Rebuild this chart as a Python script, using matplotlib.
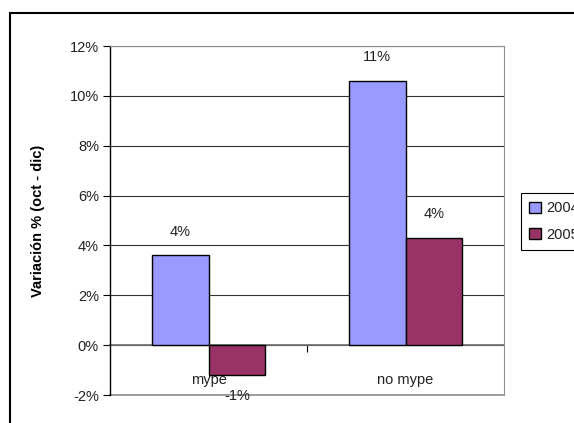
import matplotlib
matplotlib.use('Agg')
import matplotlib.pyplot as plt
import numpy as np
from matplotlib.patches import Rectangle
from matplotlib.ticker import FixedLocator, PercentFormatter

categories = ['mype', 'no mype']
series_names = ['2004', '2005']
values_2004 = [3.6, 10.6]
values_2005 = [-1.2, 4.3]
colors = ['#9999FF', '#993366']

plt.rcParams['font.family'] = ['Liberation Sans', 'DejaVu Sans']
plt.rcParams['axes.unicode_minus'] = False

fs = 10.5

fig = plt.figure(figsize=(5.74, 4.23), dpi=100)
ax = fig.add_axes([110 / 574, 28 / 423, 394 / 574, 349 / 423])

x = np.arange(len(categories))
width = 0.289
for k, (vals, name, col) in enumerate(zip([values_2004, values_2005], series_names, colors)):
    offs = (k - 0.5) * width
    bars = ax.bar(x + offs, vals, width, color=col, edgecolor='black', linewidth=1.0,
                  label=name, zorder=3)
    for b, v in zip(bars, vals):
        dy = 17 if v >= 0 else -15
        ax.annotate(f'{round(v):d}%', (b.get_x() + b.get_width() / 2, v),
                    xytext=(0, dy), textcoords='offset points',
                    ha='center', va='center', fontsize=fs, color='#222222', zorder=4)

ax.set_xlim(-0.5, 1.5)
ax.set_ylim(-2, 12)
ax.yaxis.set_major_locator(FixedLocator(np.arange(-2, 13, 2)))
ax.yaxis.set_major_formatter(PercentFormatter(decimals=0))
ax.yaxis.grid(True, color='#333333', linewidth=0.8, zorder=0)
ax.tick_params(axis='y', length=5, width=0.8, color='black', labelsize=fs,
               labelcolor='#222222', pad=3)

# category axis at zero
ax.spines['bottom'].set_position(('data', 0))
ax.spines['bottom'].set_color('#707070')
ax.spines['bottom'].set_linewidth(1.2)
ax.spines['bottom'].set_zorder(2)
ax.set_xticks([0.5])
ax.set_xticklabels([''])
ax.set_xticks(x, minor=True)
ax.set_xticklabels(categories, minor=True)
ax.tick_params(axis='x', which='major', length=5, width=0.8, color='black')
ax.tick_params(axis='x', which='minor', length=0, pad=20, labelsize=fs, labelcolor='#222222')

ax.spines['top'].set_color('#909090')
ax.spines['right'].set_color('#909090')
ax.spines['left'].set_color('black')
ax.spines['left'].set_linewidth(1.0)
ax.axhline(-2, color='#909090', linewidth=1.2, zorder=1, clip_on=False)

ax.set_ylabel('Variación % (oct - dic)', fontsize=fs, fontweight='bold')
ax.yaxis.set_label_coords(-0.165, 0.5)

leg = fig.legend(loc='center left', bbox_to_anchor=(521 / 574, 1 - 221.5 / 423),
                 frameon=True, fancybox=False, edgecolor='black', framealpha=1,
                 fontsize=fs, handlelength=0.8, handleheight=0.8, handletextpad=0.4,
                 labelspacing=0.85, borderpad=0.55, borderaxespad=0)
leg.get_frame().set_linewidth(0.8)
for t in leg.get_texts():
    t.set_color('#222222')

# outer chart border
fig.patches.append(Rectangle((10 / 574, -0.1), 1.2, 1 - 13 / 423 + 0.1,
                             transform=fig.transFigure, fill=False,
                             edgecolor='black', linewidth=1.5))

fig.savefig('out.png', dpi=100)
